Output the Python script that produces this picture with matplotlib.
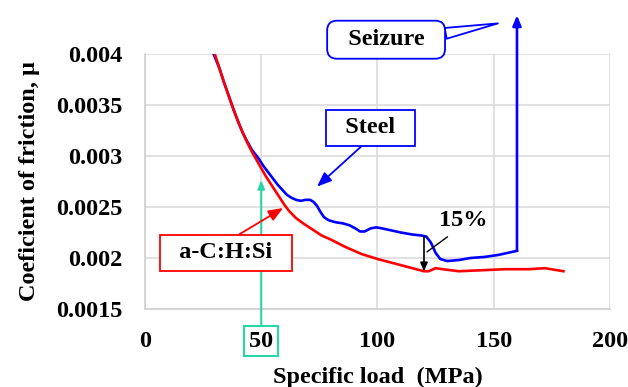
import numpy as np
import matplotlib
matplotlib.use("Agg")
import matplotlib.pyplot as plt

# Specific load (MPa) and coefficient of friction for the two counterfaces
steel_load = [27.5, 29.5, 32, 34, 36, 38, 40, 42, 44, 46, 48, 49, 51, 53, 55, 57,
              59, 61, 63, 65, 67, 69, 71, 72.5, 74, 75.5, 77, 79, 82, 85, 88, 90.5,
              92.5, 94.5, 97, 99.5, 102, 106, 110, 115, 119, 121, 123, 125, 127,
              130, 135, 140, 146, 152, 156, 160]
steel_mu = [0.00414, 0.0040, 0.00386, 0.00372, 0.00359, 0.00346, 0.00334, 0.00323,
            0.00314, 0.00306, 0.00300, 0.00297, 0.0029, 0.00284, 0.00278, 0.00272,
            0.00267, 0.00262, 0.00259, 0.00257, 0.00256, 0.00257, 0.00257, 0.00255,
            0.00251, 0.00245, 0.0024, 0.00237, 0.00235, 0.00234, 0.00232, 0.00229,
            0.00226, 0.00226, 0.00229, 0.0023, 0.00229, 0.00227, 0.00225, 0.00223,
            0.00222, 0.00221, 0.00215, 0.00205, 0.00199, 0.00197, 0.00198, 0.0020,
            0.00201, 0.00203, 0.00205, 0.00207]

acsi_load = [28, 30, 32, 34, 36, 38, 40, 42, 44, 46, 48, 50, 52, 54, 56, 58, 60,
             62, 65, 68, 72, 76, 80, 86, 93, 100, 105, 110, 115, 120, 122, 125,
             128, 135, 145, 155, 165, 172, 180]
acsi_mu = [0.00414, 0.0040, 0.00386, 0.00372, 0.00359, 0.00346, 0.00334, 0.00323,
           0.00313, 0.00304, 0.00296, 0.00288, 0.0028, 0.00273, 0.00266, 0.00259,
           0.00252, 0.00246, 0.00239, 0.00234, 0.00228, 0.00222, 0.00218, 0.00211,
           0.00204, 0.00199, 0.00196, 0.00193, 0.0019, 0.00187, 0.00187, 0.0019,
           0.00189, 0.00187, 0.00188, 0.00189, 0.00189, 0.0019, 0.00187]

seizure_load = 160
seizure_top = 0.00438
gap_load = 120
marked_load = 50

xticks = [0, 50, 100, 150, 200]
yticks = [0.0015, 0.002, 0.0025, 0.003, 0.0035, 0.004]
ytick_labels = ["0.0015", "0.002", "0.0025", "0.003", "0.0035", "0.004"]

plt.rcParams["font.family"] = ["Liberation Serif", "DejaVu Serif"]
plt.rcParams["font.weight"] = "bold"
FS = 17.5
BLUE = "#0000ff"
RED = "#ff0000"
GREEN = "#2ad6a6"

fig = plt.figure(figsize=(6.28, 3.87), dpi=100)
ax = fig.add_axes([0.2309, 0.2016, 0.7404, 0.6589])

ax.plot(steel_load, steel_mu, color=BLUE, lw=1.9, zorder=3)
ax.plot(acsi_load, acsi_mu, color=RED, lw=1.9, zorder=3)

# seizure jump, extends above the frame
ax.annotate("", xy=(seizure_load, seizure_top), xytext=(seizure_load, steel_mu[-1]),
            annotation_clip=False,
            arrowprops=dict(arrowstyle="-|>,head_length=0.6,head_width=0.25",
                            color=BLUE, lw=1.9, shrinkA=0, shrinkB=0))

ax.set_xlim(0, 200)
ax.set_ylim(0.0015, 0.004)
ax.set_xticks(xticks)
ax.set_yticks(yticks)
ax.set_yticklabels(ytick_labels)
ax.tick_params(length=0, labelsize=FS)
ax.tick_params(axis="x", pad=15.5)
ax.tick_params(axis="y", pad=16)
ax.grid(color="#dcdcdc", lw=1.2)
ax.set_axisbelow(True)
for side in ["top", "right"]:
    ax.spines[side].set_visible(False)
for side in ["left", "bottom"]:
    ax.spines[side].set_color("#cfcfcf")
    ax.spines[side].set_linewidth(1.2)

ax.set_xlabel("Specific load  (MPa)", fontsize=FS, fontweight="bold", labelpad=11)
ax.set_ylabel("Coeficient of friction, \u03bc", fontsize=FS, fontweight="bold", labelpad=12)

# green box around the 50 tick label and arrow up to the curves
lbl = ax.get_xticklabels()[xticks.index(marked_load)]
lbl.set_bbox(dict(boxstyle="square,pad=0.2", fc="white", ec=GREEN, lw=1.5))
ax.annotate("", xy=(marked_load, 0.002765), xytext=(marked_load, 0.001345),
            annotation_clip=False,
            arrowprops=dict(arrowstyle="-|>,head_length=0.5,head_width=0.2",
                            color=GREEN, lw=1.5, shrinkA=0, shrinkB=0))

# labels for the curves
ax.annotate("  Seizure  ", xy=(151.8, 0.0043), xytext=(103.7, 0.00414),
            fontsize=FS, fontweight="bold", ha="center", va="center",
            annotation_clip=False,
            bbox=dict(boxstyle="round,pad=0.35,rounding_size=0.4", fc="white", ec=BLUE, lw=1.3),
            arrowprops=dict(arrowstyle="wedge,tail_width=0.45,shrink_factor=0.5",
                            fc="white", ec=BLUE, lw=1.3, relpos=(1, 0.72),
                            shrinkA=0, shrinkB=0))

ax.annotate("  Steel  ", xy=(74, 0.0027), xytext=(96.8, 0.003275),
            fontsize=FS, fontweight="bold", ha="center", va="center",
            bbox=dict(boxstyle="square,pad=0.3", fc="white", ec=BLUE, lw=1.3),
            arrowprops=dict(arrowstyle="-|>,head_length=0.5,head_width=0.2",
                            color=BLUE, lw=1.3, relpos=(0.5, 0), shrinkA=0, shrinkB=0))

ax.annotate("  a-C:H:Si  ", xy=(59.4, 0.00249), xytext=(34.8, 0.00205),
            fontsize=FS, fontweight="bold", ha="center", va="center",
            bbox=dict(boxstyle="square,pad=0.3", fc="white", ec=RED, lw=1.3),
            arrowprops=dict(arrowstyle="-|>,head_length=0.5,head_width=0.2",
                            color=RED, lw=1.3, relpos=(0.5, 1), shrinkA=0, shrinkB=0),
            zorder=5)

# friction reduction at the gap load
gap_top = np.interp(gap_load, steel_load, steel_mu)
gap_bot = np.interp(gap_load, acsi_load, acsi_mu)
ax.annotate("", xy=(gap_load, gap_bot), xytext=(gap_load, gap_top),
            arrowprops=dict(arrowstyle="-|>,head_length=0.5,head_width=0.22",
                            color="black", lw=1.2, shrinkA=0, shrinkB=0), zorder=4)
ax.annotate("15%", xy=(121.3, 0.00206), xytext=(136.8, 0.00237),
            fontsize=FS, fontweight="bold", ha="center", va="center",
            arrowprops=dict(arrowstyle="-", color="black", lw=1.0,
                            relpos=(0.35, 0), shrinkA=4, shrinkB=0), zorder=4)

fig.savefig("out.png", dpi=100)
